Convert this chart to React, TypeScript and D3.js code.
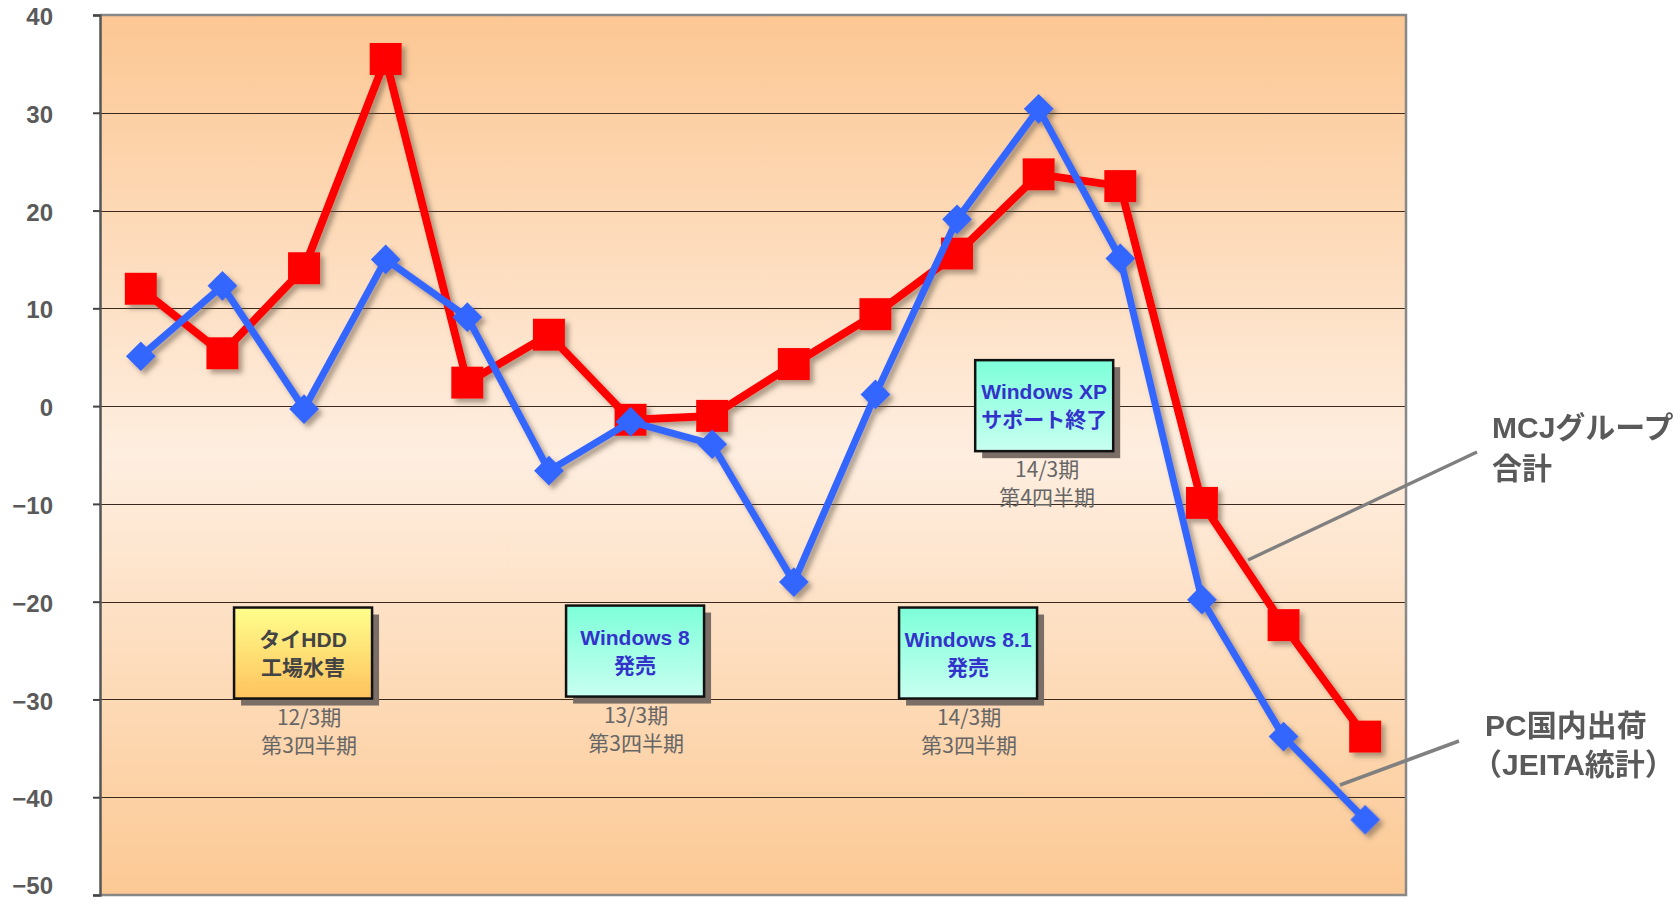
import React, { useEffect, useRef } from 'react';
import * as d3 from 'd3';

const quarters: string[] = [
  'Q1', 'Q2', 'Q3', 'Q4', 'Q5', 'Q6', 'Q7', 'Q8',
  'Q9', 'Q10', 'Q11', 'Q12', 'Q13', 'Q14', 'Q15', 'Q16',
];
const mcjValues: number[] = [12, 5.4, 14.1, 35.5, 2.4, 7.3, -1.4, -1.0, 4.3, 9.4, 15.6, 23.7, 22.5, -9.9, -22.4, -33.8];
const jeitaValues: number[] = [5.1, 12.3, -0.3, 15.0, 9.1, -6.6, -1.6, -3.9, -18.0, 1.2, 19.1, 30.4, 15.1, -19.8, -33.8, -42.3];
const yTicks: number[] = [40, 30, 20, 10, 0, -10, -20, -30, -40, -50];

interface Note {
  lines: string[],
  sub: string[],
  q: number,
  y: number,
  dx: number,
  subDx: number,
  kind: 'yellow' | 'teal'
}

const notes: Note[] = [
  { lines: ['タイHDD', '工場水害'], sub: ['12/3期', '第3四半期'], q: 2, y: -20.6, dx: -1, subDx: 6, kind: 'yellow' },
  { lines: ['Windows 8', '発売'], sub: ['13/3期', '第3四半期'], q: 6, y: -20.4, dx: 4.5, subDx: 1, kind: 'teal' },
  { lines: ['Windows 8.1', '発売'], sub: ['14/3期', '第3四半期'], q: 10, y: -20.6, dx: 11, subDx: 1, kind: 'teal' },
  { lines: ['Windows XP', 'サポート終了'], sub: ['14/3期', '第4四半期'], q: 11, y: 4.7, dx: 5.5, subDx: 3, kind: 'teal' },
];

const JP = '"Liberation Sans", "Noto Sans CJK JP", sans-serif';

export default function App() {
  const ref = useRef<SVGSVGElement>(null);
  const width = 1676;
  const height = 898;
  const margin = { top: 15, right: 270, bottom: 3, left: 100 };

  useEffect(() => {
    draw();
  // eslint-disable-next-line react-hooks/exhaustive-deps
  }, []);

  function draw() {
    const svg = d3.select(ref.current);
    svg.selectAll('*').remove();

    const x = d3.scaleBand()
      .domain(quarters)
      .range([margin.left, width - margin.right]);
    const cx = (i: number) => x(quarters[i])! + x.bandwidth() / 2;

    const y = d3.scaleLinear()
      .domain([-50, 40])
      .range([height - margin.bottom, margin.top]);

    const defs = svg.append('defs');
    const bg = defs.append('linearGradient')
      .attr('id', 'bg').attr('x1', 0).attr('y1', 0).attr('x2', 0).attr('y2', 1);
    bg.append('stop').attr('offset', '0%').attr('stop-color', '#fcc793');
    bg.append('stop').attr('offset', '50%').attr('stop-color', '#feeee0');
    bg.append('stop').attr('offset', '100%').attr('stop-color', '#fcc994');

    const yel = defs.append('linearGradient')
      .attr('id', 'yel').attr('x1', 0).attr('y1', 0).attr('x2', 0).attr('y2', 1);
    yel.append('stop').attr('offset', '0%').attr('stop-color', '#ffff8c');
    yel.append('stop').attr('offset', '100%').attr('stop-color', '#fec25e');

    const teal = defs.append('linearGradient')
      .attr('id', 'teal').attr('x1', 0).attr('y1', 0).attr('x2', 0).attr('y2', 1);
    teal.append('stop').attr('offset', '0%').attr('stop-color', '#7dffd9');
    teal.append('stop').attr('offset', '100%').attr('stop-color', '#c8fff0');

    const shadow = defs.append('filter').attr('id', 'shadow')
      .attr('x', '-20%').attr('y', '-20%').attr('width', '140%').attr('height', '140%');
    shadow.append('feDropShadow')
      .attr('dx', 4).attr('dy', 4).attr('stdDeviation', 2.5)
      .attr('flood-color', '#6b5a4a').attr('flood-opacity', 0.55);

    const pw = width - margin.right - margin.left;
    const ph = height - margin.bottom - margin.top;

    svg.append('rect')
      .attr('x', margin.left).attr('y', margin.top)
      .attr('width', pw).attr('height', ph)
      .attr('fill', 'url(#bg)');

    // grid
    svg.append('g')
      .selectAll('line')
      .data(yTicks.filter((t) => t !== 40 && t !== -50))
      .enter()
      .append('line')
      .attr('x1', margin.left).attr('x2', width - margin.right)
      .attr('y1', (d) => Math.round(y(d)) + 0.5).attr('y2', (d) => Math.round(y(d)) + 0.5)
      .attr('stroke', '#3a2a1e').attr('stroke-width', 1.2);

    // frame
    svg.append('path')
      .attr('d', `M${margin.left},${margin.top}H${width - margin.right}V${height - margin.bottom}H${margin.left}`)
      .attr('fill', 'none').attr('stroke', '#888').attr('stroke-width', 2.5);

    const yAxis = d3.axisLeft(y).tickValues(yTicks).tickSize(7)
      .tickFormat((d) => (d as number) < 0 ? `−${Math.abs(d as number)}` : `${d}`);
    const ga = svg.append('g')
      .attr('transform', `translate(${margin.left},0)`)
      .call(yAxis);
    ga.select('.domain').attr('stroke', '#555').attr('stroke-width', 2.5);
    ga.selectAll('.tick line').attr('stroke', '#444').attr('stroke-width', 2);
    ga.selectAll('.tick text')
      .attr('x', -47)
      .attr('dy', (d) => (d as number) === -50 ? '-0.05em' : '0.4em')
      .attr('fill', '#5a5a5a')
      .style('font-family', JP)
      .style('font-weight', 'bold')
      .style('font-size', '24px');

    // annotation boxes
    const boxW = 138;
    const boxH = 91;
    const ng = svg.append('g');
    notes.forEach((n) => {
      const bx = cx(n.q) + n.dx - boxW / 2;
      const by = y(n.y);
      const g = ng.append('g');
      g.append('rect')
        .attr('x', bx + 7).attr('y', by + 7)
        .attr('width', boxW).attr('height', boxH)
        .attr('fill', '#7a6e66');
      g.append('rect')
        .attr('x', bx).attr('y', by)
        .attr('width', boxW).attr('height', boxH)
        .attr('fill', n.kind === 'yellow' ? 'url(#yel)' : 'url(#teal)')
        .attr('stroke', '#111').attr('stroke-width', 2.5);
      n.lines.forEach((t, i) => {
        g.append('text')
          .attr('x', bx + boxW / 2)
          .attr('y', by + 39 + i * 28)
          .attr('text-anchor', 'middle')
          .attr('fill', n.kind === 'yellow' ? '#444' : '#3333cc')
          .style('font-family', JP)
          .style('font-weight', 'bold')
          .style('font-size', '21px')
          .text(t);
      });
      n.sub.forEach((t, i) => {
        g.append('text')
          .attr('x', bx + boxW / 2 + n.subDx)
          .attr('y', by + boxH + 26 + i * 28)
          .attr('text-anchor', 'middle')
          .attr('fill', '#666')
          .style('font-family', '"Noto Sans CJK JP", sans-serif')
          .style('font-size', '21px')
          .text(t);
      });
    });

    // series
    const line = d3.line<number>()
      .x((d, i) => cx(i))
      .y((d) => y(d));

    const sg = svg.append('g').attr('filter', 'url(#shadow)');

    sg.append('path')
      .datum(mcjValues)
      .attr('d', line)
      .attr('fill', 'none')
      .attr('stroke', '#ff0000')
      .attr('stroke-width', 8)
      .attr('stroke-linejoin', 'round');
    sg.selectAll('.sq')
      .data(mcjValues)
      .enter()
      .append('rect')
      .attr('class', 'sq')
      .attr('x', (d, i) => cx(i) - 16)
      .attr('y', (d) => y(d) - 16)
      .attr('width', 32).attr('height', 32)
      .attr('fill', '#ff0000');

    sg.append('path')
      .datum(jeitaValues)
      .attr('d', line)
      .attr('fill', 'none')
      .attr('stroke', '#3366ff')
      .attr('stroke-width', 7)
      .attr('stroke-linejoin', 'round');
    sg.selectAll('.dm')
      .data(jeitaValues)
      .enter()
      .append('rect')
      .attr('class', 'dm')
      .attr('x', -10.5).attr('y', -10.5)
      .attr('width', 21).attr('height', 21)
      .attr('transform', (d, i) => `translate(${cx(i)},${y(d)}) rotate(45)`)
      .attr('fill', '#3366ff');

    // leader labels
    const lg = svg.append('g');
    lg.append('line')
      .attr('x1', 1248).attr('y1', 560).attr('x2', 1477).attr('y2', 452)
      .attr('stroke', '#808080').attr('stroke-width', 3.5);
    lg.append('line')
      .attr('x1', 1340).attr('y1', 785).attr('x2', 1459).attr('y2', 741)
      .attr('stroke', '#808080').attr('stroke-width', 3.5);
    [['MCJグループ', 1492, 438], ['合計', 1492, 479], ['PC国内出荷', 1485, 736], ['（JEITA統計）', 1472, 775]]
      .forEach(([t, tx, ty]) => {
        lg.append('text')
          .attr('x', tx as number).attr('y', ty as number)
          .attr('fill', '#5a5a5a')
          .style('font-family', JP)
          .style('font-weight', 'bold')
          .style('font-size', '30px')
          .text(t as string);
      });
  }

  return (
    <div style={{ position: 'absolute', left: 0, top: 0 }}>
      <svg ref={ref} width={width} height={height} style={{ display: 'block', background: '#fff' }} />
    </div>
  );
}
